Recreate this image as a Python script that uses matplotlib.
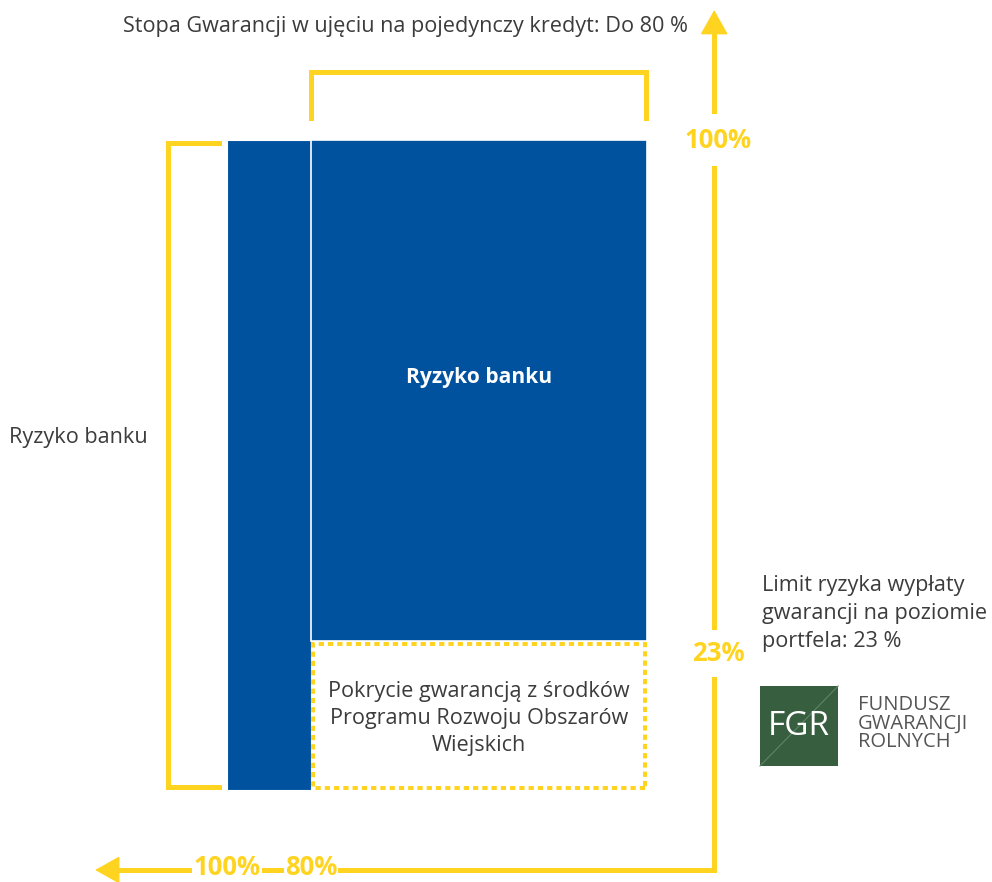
import matplotlib
matplotlib.use("Agg")
import matplotlib.pyplot as plt
from matplotlib.patches import Rectangle

# ---- Data ----
loan_parts = [20, 80]          # % of a single loan: bank-only part, guaranteed part
loan_part_starts = [80, 0]
portfolio_limit = 23           # % payout limit on portfolio level
full_scale = 100
bottom_ticks = [100, 80]
bottom_tick_labels = ["100%", "80%"]
side_ticks = [100, 23]
side_tick_labels = ["100%", "23%"]

title_text = "Stopa Gwarancji w ujęciu na pojedynczy kredyt: Do 80 %"
bank_risk_text = "Ryzyko banku"
prow_text = "Pokrycie gwarancją z środków\nProgramu Rozwoju Obszarów\nWiejskich"
limit_text = "Limit ryzyka wypłaty\ngwarancji na poziomie\nportfela: 23 %"
logo_text = "FUNDUSZ\nGWARANCJI\nROLNYCH"

# ---- Style ----
yellow = "#FFD420"
blue = "#00529F"
grey = "#3C3C3C"
green = "#385E40"
plt.rcParams['font.family'] = ['Open Sans', 'DejaVu Sans']
fs = 15.6

fig = plt.figure(figsize=(9.92, 8.82), dpi=100)
ax = fig.add_axes([0, 0, 1, 1])
# x: % of loan measured from the right edge of the bars, y: % of portfolio
ax.set_xlim(154.05, -82.14)
ax.set_ylim(-14.15, 121.54)
ax.axis("off")

# ---- Bars ----
ax.bar(loan_part_starts[0], full_scale, width=loan_parts[0], align="edge",
       color=blue, edgecolor="white", linewidth=0.8)
ax.bar(loan_part_starts[1], full_scale - portfolio_limit, width=loan_parts[1],
       bottom=portfolio_limit, align="edge", color=blue, edgecolor="white", linewidth=1.2)
ax.add_patch(Rectangle((0.4, 0.3), loan_parts[1] - 0.8, portfolio_limit - 0.8,
                       fill=False, edgecolor=yellow, linewidth=2.9,
                       linestyle=(0, (1.3, 1.0))))

# ---- Brackets ----
lw = 3.6
ax.plot([80, 80, 0.3, 0.3], [103.4, 110.5, 110.5, 103.4], color=yellow, lw=lw,
        solid_joinstyle="miter")
ax.plot([102, 114, 114, 102], [99.5, 99.5, 0.5, 0.5], color=yellow, lw=lw,
        solid_joinstyle="miter")

# ---- Axes lines with arrows ----
ax_x, ax_y = -16, -12.3
ax.plot([127, ax_x, ax_x], [ax_y, ax_y, 116], color=yellow, lw=lw,
        solid_joinstyle="miter", zorder=2)
ax.annotate("", xy=(131.4, ax_y), xytext=(125, ax_y),
            arrowprops=dict(arrowstyle="-|>,head_length=0.8,head_width=0.45",
                            mutation_scale=20, color=yellow, lw=1, shrinkA=0, shrinkB=0))
ax.annotate("", xy=(ax_x, 120), xytext=(ax_x, 114),
            arrowprops=dict(arrowstyle="-|>,head_length=0.8,head_width=0.45",
                            mutation_scale=20, color=yellow, lw=1, shrinkA=0, shrinkB=0))

for x, lab in zip(bottom_ticks, bottom_tick_labels):
    ax.text(x, ax_y - 0.8, lab, color=yellow, fontsize=18.5, fontweight="bold",
            ha="center", va="baseline", zorder=3,
            bbox=dict(facecolor="white", edgecolor="none", pad=1))
for y, lab in zip(side_ticks, side_tick_labels):
    ax.text(ax_x - 1, y - 2 if y < 50 else y, lab, color=yellow, fontsize=18.5,
            fontweight="bold", ha="center", va="center", zorder=3,
            bbox=dict(facecolor="white", edgecolor="none", pad=7 if y < 50 else 9))

# ---- Texts ----
ax.text(57.6, 117.5, title_text, color=grey, fontsize=fs, ha="center", va="center")
ax.text(135.5, 54.3, bank_risk_text, color=grey, fontsize=fs, ha="center", va="center")
ax.text(40, 63.4, bank_risk_text, color="white", fontsize=15.1, fontweight="bold",
        ha="center", va="center")
ax.text(40, 11, prow_text, color=grey, fontsize=fs, ha="center", va="center",
        linespacing=1.35)
ax.text(-27.4, 27.2, limit_text, color=grey, fontsize=fs, ha="left", va="center",
        linespacing=1.45)

# ---- Logo ----
ax.add_patch(Rectangle((-45.5, 3.7), 18.6, 12.3, facecolor=green, edgecolor="none"))
ax.plot([-26.9, -45.5], [3.7, 16], color="#5F8466", lw=0.8)
ax.text(-36.2, 9.8, "FGR", color="white", fontsize=24, ha="center", va="center")
ax.text(-50.2, 10.2, logo_text, color="#555555", fontsize=14.5, ha="left",
        va="center", linespacing=0.9)

fig.savefig("out.png", dpi=100)
